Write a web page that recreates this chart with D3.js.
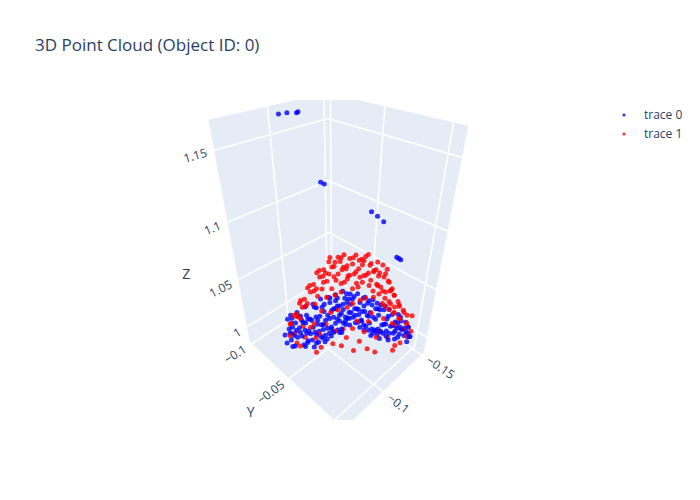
<!DOCTYPE html>
<html>
<head>
<meta charset="utf-8">
<script src="https://cdn.jsdelivr.net/npm/d3@7"></script>
<style>
  body { margin: 0; background: #fff; }
  text { font-family: "Open Sans", verdana, arial, sans-serif; fill: #2a3f5f; }
</style>
</head>
<body>
<svg width="700" height="500"></svg>
<script>
var chartTitle = "3D Point Cloud (Object ID: 0)";
var traceNames = ["trace 0", "trace 1"];
var axisTitles = ["X", "Y", "Z"];
var xTicks = [-0.15, -0.1];
var yTicks = [-0.1, -0.05, 0];
var zTicks = [1, 1.05, 1.1, 1.15];

// trace 0 (blue)
var blueX = [
  -0.0860,-0.0801,-0.0765,-0.0729,-0.0674,-0.0655,-0.0840,-0.0692,
  -0.0926,-0.0889,-0.0831,-0.0838,-0.0779,-0.0736,-0.0727,-0.0684,-0.0657,-0.0772,
  -0.1003,-0.0967,-0.0931,-0.0860,-0.0841,-0.0820,-0.0765,-0.0746,-0.0725,-0.0881,-0.0783,
  -0.1080,-0.1044,-0.1007,-0.0938,-0.0901,-0.0881,-0.0827,-0.0806,-0.0786,-0.0940,-0.0847,-0.0845,
  -0.1157,-0.1120,-0.1085,-0.1014,-0.0978,-0.0958,-0.0904,-0.0883,-0.0863,-0.0825,-0.1017,-0.0922,
  -0.1234,-0.1182,-0.1146,-0.1076,-0.1040,-0.1019,-0.0966,-0.0945,-0.0924,-0.0984,-0.1094,-0.0886,
  -0.1311,-0.1275,-0.1223,-0.1153,-0.1116,-0.1097,-0.1042,-0.1022,-0.1002,-0.1171,-0.1060,-0.1232,
  -0.1372,-0.1336,-0.1284,-0.1214,-0.1178,-0.1158,-0.1103,-0.1083,-0.1233,-0.1122,-0.1363,
  -0.1402,-0.1350,-0.1299,-0.1228,-0.1207,-0.1188,-0.1278,-0.1307,-0.1183,
  -0.1431,-0.1380,-0.1328,-0.1257,-0.1238,-0.1201,-0.1307,-0.1162,-0.1434,-0.1170,
  -0.1461,-0.1409,-0.1357,-0.1287,-0.1251,-0.1230,-0.1177,-0.1156,-0.1401,-0.1227,-0.1452,
  -0.1475,-0.1424,-0.1371,-0.1301,-0.1265,-0.1245,-0.1190,-0.1186,-0.1414,-0.1303,-0.1466,
  -0.1489,-0.1437,-0.1385,-0.1315,-0.1295,-0.1274,-0.1220,-0.1428,-0.1333,-0.1215,
  -0.1487,-0.1450,-0.1415,-0.1344,-0.1324,-0.1304,-0.1249,-0.1410,-0.1331,
  -0.1485,-0.1449,-0.1412,-0.1359,-0.1338,-0.1317,-0.1456,-0.1377,
  -0.1435,-0.1372,-0.1345,
  -0.0808,-0.0724,-0.0917,-0.0786,-0.0888,-0.0957,-0.0752,-0.1071,-0.0972,-0.0814,
  -0.1148,-0.0927,-0.0874,-0.1230,-0.0988,-0.1174,-0.1196,-0.1144,-0.1013,-0.1277,
  -0.1131,-0.1328,-0.1185,-0.1393,-0.1235,-0.1321,-0.1206,-0.1370,-0.1196,-0.1314,
  -0.1183,-0.1306,-0.1238,-0.1419,-0.1240,-0.1342,-0.1480,-0.1297,-0.1352,-0.1406,
  -0.1480,-0.1365,
  -0.1058,-0.1127,-0.1209,-0.1221,-0.1170,-0.1168,-0.1384,-0.1364,-0.1334,-0.1360,-0.1359,-0.1357
];
var blueY = [
  -0.0794,-0.0759,-0.0699,-0.0641,-0.0632,-0.0589,-0.0752,-0.0582,
  -0.0792,-0.0733,-0.0697,-0.0658,-0.0623,-0.0602,-0.0547,-0.0528,-0.0523,-0.0662,
  -0.0779,-0.0719,-0.0661,-0.0636,-0.0593,-0.0550,-0.0541,-0.0498,-0.0455,-0.0679,-0.0491,
  -0.0764,-0.0706,-0.0647,-0.0622,-0.0563,-0.0521,-0.0511,-0.0468,-0.0426,-0.0556,-0.0555,-0.0461,
  -0.0751,-0.0692,-0.0633,-0.0608,-0.0550,-0.0506,-0.0498,-0.0455,-0.0411,-0.0419,-0.0543,-0.0448,
  -0.0736,-0.0662,-0.0604,-0.0578,-0.0520,-0.0477,-0.0468,-0.0425,-0.0382,-0.0418,-0.0528,-0.0388,
  -0.0723,-0.0665,-0.0589,-0.0565,-0.0506,-0.0463,-0.0454,-0.0412,-0.0368,-0.0515,-0.0404,-0.0644,
  -0.0694,-0.0634,-0.0560,-0.0536,-0.0476,-0.0434,-0.0425,-0.0381,-0.0485,-0.0374,-0.0639,
  -0.0632,-0.0558,-0.0483,-0.0458,-0.0415,-0.0372,-0.0440,-0.0537,-0.0345,
  -0.0571,-0.0496,-0.0422,-0.0397,-0.0354,-0.0295,-0.0379,-0.0302,-0.0506,-0.0264,
  -0.0509,-0.0435,-0.0361,-0.0335,-0.0277,-0.0234,-0.0225,-0.0182,-0.0381,-0.0207,-0.0456,
  -0.0433,-0.0358,-0.0283,-0.0259,-0.0199,-0.0157,-0.0148,-0.0120,-0.0304,-0.0193,-0.0378,
  -0.0355,-0.0281,-0.0207,-0.0181,-0.0139,-0.0096,-0.0086,-0.0226,-0.0131,-0.0059,
  -0.0263,-0.0204,-0.0145,-0.0120,-0.0078,-0.0034,-0.0025,-0.0118,-0.0039,
  -0.0169,-0.0111,-0.0052,-0.0043,0.0000,0.0043,-0.0072,0.0007,
  -0.0029,0.0034,0.0039,
  -0.0720,-0.0614,-0.0737,-0.0584,-0.0640,-0.0665,-0.0460,-0.0711,-0.0588,-0.0430,
  -0.0696,-0.0475,-0.0400,-0.0710,-0.0446,-0.0608,-0.0586,-0.0510,-0.0357,-0.0599,
  -0.0429,-0.0580,-0.0437,-0.0577,-0.0419,-0.0461,-0.0322,-0.0442,-0.0268,-0.0340,
  -0.0187,-0.0286,-0.0196,-0.0331,-0.0130,-0.0186,-0.0302,-0.0073,-0.0082,-0.0090,
  -0.0142,-0.0005,
  -0.0997,-0.0996,-0.0995,-0.0994,-0.0728,-0.0690,-0.0434,-0.0362,-0.0282,-0.0162,-0.0143,-0.0125
];
var blueZ = [
  1.010,1.012,1.008,1.010,1.013,1.009,1.011,1.010,
  1.009,1.012,1.010,1.007,1.011,1.010,1.013,1.008,1.010,1.012,
  1.011,1.008,1.010,1.013,1.009,1.010,1.012,1.007,1.010,1.011,1.009,
  1.010,1.013,1.008,1.011,1.010,1.009,1.012,1.010,1.007,1.011,1.010,1.013,
  1.012,1.009,1.010,1.011,1.008,1.013,1.010,1.009,1.012,1.010,1.011,1.008,
  1.010,1.012,1.009,1.010,1.013,1.008,1.011,1.010,1.012,1.009,1.010,1.011,
  1.009,1.011,1.010,1.013,1.008,1.010,1.012,1.009,1.011,1.010,1.008,1.012,
  1.011,1.009,1.012,1.010,1.008,1.011,1.010,1.013,1.009,1.010,1.012,
  1.010,1.012,1.009,1.011,1.010,1.008,1.013,1.010,1.011,
  1.012,1.010,1.008,1.011,1.009,1.010,1.012,1.010,1.011,1.009,
  1.010,1.011,1.009,1.012,1.010,1.008,1.011,1.010,1.013,1.009,1.010,
  1.011,1.009,1.010,1.012,1.008,1.010,1.011,1.009,1.012,1.010,1.011,
  1.009,1.012,1.010,1.011,1.008,1.010,1.012,1.009,1.011,1.010,
  1.010,1.011,1.009,1.012,1.010,1.008,1.011,1.010,1.009,
  1.011,1.010,1.009,1.012,1.010,1.008,1.011,1.010,
  1.010,1.009,1.011,
  1.010,1.012,1.009,1.011,1.010,1.008,1.012,1.010,1.011,1.009,
  1.010,1.012,1.008,1.011,1.010,1.009,1.012,1.010,1.011,1.008,
  1.010,1.012,1.009,1.011,1.010,1.008,1.012,1.010,1.011,1.009,
  1.010,1.012,1.008,1.011,1.010,1.009,1.012,1.010,1.011,1.008,
  1.010,1.012,
  1.163,1.1625,1.161,1.1615,1.120,1.120,1.100,1.100,1.100,1.075,1.075,1.075
];

// trace 1 (red)
var redX = [
  -0.1079,-0.1100,-0.1147,-0.1168,-0.1190,-0.1211,
  -0.0996,-0.1029,-0.1068,-0.1080,-0.1119,-0.1158,-0.1170,-0.1209,-0.1221,
  -0.0922,-0.0965,-0.0981,-0.1002,-0.1049,-0.1071,-0.1092,-0.1134,-0.1156,-0.1177,-0.1198,
  -0.0859,-0.0906,-0.0928,-0.0949,-0.0991,-0.1013,-0.1034,-0.1081,-0.1102,-0.1119,-0.1166,-0.1170,
  -0.0944,-0.0991,-0.1014,-0.1042,-0.1089,-0.1112,-0.1134,-0.1182,-0.1205,-0.1232,-0.1280,-0.1294,
  -0.0886,-0.0934,-0.0962,-0.0989,-0.1042,-0.1065,-0.1103,-0.1155,-0.1183,-0.1211,-0.1258,-0.1267,
  -0.0829,-0.0877,-0.0904,-0.0937,-0.1016,-0.1048,-0.1086,-0.1139,-0.1167,-0.1189,-0.1232,-0.1236,
  -0.0900,-0.0948,-0.0983,-0.1043,-0.1182,-0.1253,-0.1282,-0.1331,-0.1349,
  -0.0843,-0.0891,-0.0920,-0.1034,-0.1178,-0.1239,-0.1263,-0.1306,-0.1319,
  -0.0786,-0.0834,-0.0927,-0.1052,-0.1174,-0.1214,-0.1237,-0.1280,-0.1293,
  -0.0851,-0.0900,-0.0941,-0.1059,-0.1196,-0.1324,-0.1344,-0.1387,-0.1401,
  -0.0795,-0.0843,-0.0939,-0.1068,-0.1215,-0.1300,-0.1320,-0.1363,-0.1377,
  -0.0743,-0.0792,-0.0948,-0.1219,-0.1290,-0.1309,-0.1323,-0.1361,
  -0.0692,-0.0741,-0.0820,-0.1037,-0.1239,-0.1264,-0.1294,-0.1337,
  -0.0781,-0.0865,-0.0988,-0.1076,-0.1234,-0.1380,-0.1440,
  -0.0770,-0.0871,-0.0999,-0.1088,-0.1257,-0.1374,-0.1412,
  -0.0708,-0.0803,-0.0875,-0.1014,-0.1127,-0.1249,-0.1344,
  -0.0708,-0.0826,-0.0909,-0.1043,-0.1150,-0.1272,
  -0.0691,-0.0815,-0.0915,-0.1043,-0.1207,
  -0.0752,-0.0938,-0.1067,-0.1150
];
var redY = [
  -0.0466,-0.0428,-0.0415,-0.0376,-0.0338,-0.0299,
  -0.0463,-0.0447,-0.0425,-0.0378,-0.0357,-0.0335,-0.0288,-0.0267,-0.0220,
  -0.0450,-0.0442,-0.0408,-0.0370,-0.0357,-0.0319,-0.0280,-0.0272,-0.0234,-0.0195,-0.0157,
  -0.0426,-0.0414,-0.0375,-0.0337,-0.0329,-0.0290,-0.0252,-0.0239,-0.0200,-0.0167,-0.0154,-0.0098,
  -0.0547,-0.0533,-0.0493,-0.0449,-0.0435,-0.0396,-0.0356,-0.0342,-0.0303,-0.0258,-0.0247,-0.0197,
  -0.0520,-0.0506,-0.0462,-0.0417,-0.0398,-0.0359,-0.0304,-0.0285,-0.0240,-0.0196,-0.0182,-0.0139,
  -0.0494,-0.0480,-0.0435,-0.0386,-0.0341,-0.0291,-0.0236,-0.0217,-0.0173,-0.0133,-0.0124,-0.0087,
  -0.0605,-0.0589,-0.0538,-0.0461,-0.0355,-0.0268,-0.0222,-0.0207,-0.0172,
  -0.0580,-0.0564,-0.0519,-0.0388,-0.0277,-0.0200,-0.0160,-0.0150,-0.0120,
  -0.0554,-0.0539,-0.0430,-0.0289,-0.0199,-0.0143,-0.0103,-0.0093,-0.0063,
  -0.0652,-0.0635,-0.0578,-0.0444,-0.0340,-0.0195,-0.0160,-0.0149,-0.0119,
  -0.0628,-0.0612,-0.0500,-0.0355,-0.0240,-0.0139,-0.0103,-0.0092,-0.0062,
  -0.0599,-0.0582,-0.0410,-0.0123,-0.0084,-0.0049,-0.0019,-0.0013,
  -0.0570,-0.0553,-0.0457,-0.0225,-0.0055,-0.0014,0.0032,0.0043,
  -0.0699,-0.0647,-0.0508,-0.0403,-0.0277,-0.0116,-0.0040,
  -0.0631,-0.0562,-0.0417,-0.0313,-0.0175,-0.0043,0.0011,
  -0.0614,-0.0551,-0.0463,-0.0308,-0.0227,-0.0088,0.0022,
  -0.0535,-0.0449,-0.0350,-0.0200,-0.0125,0.0014,
  -0.0473,-0.0381,-0.0265,-0.0121,0.0011,
  -0.0364,-0.0163,-0.0065,0.0034
];
var redZ = [
  1.074,1.077,1.072,1.076,1.073,1.078,
  1.078,1.073,1.076,1.071,1.077,1.074,1.079,1.072,1.075,
  1.072,1.077,1.074,1.079,1.071,1.076,1.073,1.078,1.075,1.072,1.077,
  1.076,1.072,1.078,1.073,1.077,1.071,1.075,1.079,1.073,1.076,1.072,1.078,
  1.063,1.058,1.061,1.056,1.064,1.059,1.062,1.057,1.060,1.064,1.058,1.062,
  1.057,1.062,1.059,1.064,1.056,1.061,1.058,1.063,1.060,1.056,1.062,1.059,
  1.061,1.056,1.063,1.058,1.062,1.057,1.064,1.059,1.061,1.056,1.063,1.058,
  1.048,1.043,1.046,1.041,1.047,1.044,1.049,1.042,1.045,
  1.042,1.047,1.044,1.049,1.041,1.046,1.043,1.048,1.045,
  1.046,1.041,1.048,1.043,1.047,1.042,1.045,1.049,1.044,
  1.033,1.028,1.031,1.026,1.034,1.029,1.032,1.027,1.030,
  1.027,1.032,1.029,1.034,1.026,1.031,1.028,1.033,1.030,
  1.031,1.026,1.033,1.028,1.032,1.027,1.034,1.029,
  1.028,1.033,1.027,1.031,1.026,1.032,1.029,1.034,
  1.012,1.008,1.011,1.007,1.013,1.009,1.010,
  1.008,1.012,1.009,1.013,1.007,1.011,1.010,
  1.011,1.007,1.012,1.009,1.013,1.008,1.010,
  1.009,1.012,1.007,1.011,1.013,1.008,
  1.012,1.008,1.011,1.009,1.010,
  1.009,1.012,1.008,1.011
];

var drawChart = function() {
  var svg = d3.select("svg");
  svg.append("rect").attr("width", 700).attr("height", 500).attr("fill", "#fff");

  // scene box and camera (plotly-like default eye 1.25,1.25,1.25)
  var xRange = [-0.1535, -0.058], yRange = [-0.103, 0.009], zRange = [0.982, 1.168];
  var cx = 335.5, cy = 257, focal = 386;
  var rx = xRange[1] - xRange[0], ry = yRange[1] - yRange[0], rz = zRange[1] - zRange[0];
  var norm = Math.cbrt(rx * ry * rz);
  var xScale = d3.scaleLinear().domain(xRange).range([-rx / norm / 2, rx / norm / 2]);
  var yScale = d3.scaleLinear().domain(yRange).range([-ry / norm / 2, ry / norm / 2]);
  var zScale = d3.scaleLinear().domain(zRange).range([-rz / norm / 2, rz / norm / 2]);

  var project = function(p) {
    var nx = xScale(p[0]), ny = yScale(p[1]), nz = zScale(p[2]);
    var xc = (ny - nx) / Math.SQRT2;
    var yc = (2 * nz - nx - ny) / Math.sqrt(6);
    var depth = (3.75 - nx - ny - nz) / Math.sqrt(3);
    return [cx + focal * xc / depth, cy - focal * yc / depth, depth];
  };

  svg.append("defs").append("clipPath").attr("id", "sceneclip")
    .append("rect").attr("x", 80).attr("y", 100).attr("width", 520).attr("height", 320);
  var scene = svg.append("g").attr("clip-path", "url(#sceneclip)");

  var x0 = xRange[0], x1 = xRange[1], y0 = yRange[0], y1 = yRange[1], z0 = zRange[0], z1 = zRange[1];
  var walls = [
    [[x0, y0, z0], [x1, y0, z0], [x1, y0, z1], [x0, y0, z1]],
    [[x0, y0, z0], [x0, y1, z0], [x0, y1, z1], [x0, y0, z1]],
    [[x0, y0, z0], [x1, y0, z0], [x1, y1, z0], [x0, y1, z0]]
  ];
  var pathOf = function(pts) {
    return "M" + pts.map(function(p) { var s = project(p); return s[0] + "," + s[1]; }).join("L");
  };
  scene.selectAll("path.wall")
    .data(walls)
    .enter()
    .append("path")
    .attr("class", "wall")
    .attr("d", function(d) { return pathOf(d) + "Z"; })
    .attr("fill", "#E5ECF6")
    .attr("stroke", "#E5ECF6")
    .attr("stroke-width", 0.5);

  var grid = [];
  xTicks.forEach(function(t) { grid.push([[t, y0, z0], [t, y1, z0]]); grid.push([[t, y0, z0], [t, y0, z1]]); });
  yTicks.forEach(function(t) { grid.push([[x0, t, z0], [x1, t, z0]]); grid.push([[x0, t, z0], [x0, t, z1]]); });
  zTicks.forEach(function(t) { grid.push([[x0, y0, t], [x1, y0, t]]); grid.push([[x0, y0, t], [x0, y1, t]]); });
  scene.selectAll("path.grid")
    .data(grid)
    .enter()
    .append("path")
    .attr("class", "grid")
    .attr("d", pathOf)
    .attr("stroke", "#fff")
    .attr("stroke-width", 1.6)
    .attr("fill", "none");

  // labels sit on the outer edge, turned along the grid direction
  var fmt = d3.format("~g");
  var placeText = function(a3, b3, text, gap, size, rotate) {
    var a = project(a3), b = project(b3);
    var dx = b[0] - a[0], dy = b[1] - a[1];
    var len = Math.sqrt(dx * dx + dy * dy);
    dx /= len; dy /= len;
    var px = a[0] + dx * gap, py = a[1] + dy * gap;
    var angle = Math.atan2(dy, dx) * 180 / Math.PI;
    var anchor = "start";
    if (dx < 0) { angle += 180; anchor = "end"; }
    var t = scene.append("text")
      .attr("x", px)
      .attr("y", py)
      .attr("dy", "0.35em")
      .attr("font-size", size)
      .text(text);
    if (rotate) {
      t.attr("text-anchor", anchor).attr("transform", "rotate(" + angle + "," + px + "," + py + ")");
    } else {
      t.attr("text-anchor", "middle");
    }
  };
  zTicks.forEach(function(t) { placeText([x1, y0, t], [x1 + rx * 0.2, y0, t], fmt(t), 8, 12, true); });
  yTicks.forEach(function(t) { placeText([x1, t, z0], [x1 + rx * 0.2, t, z0], fmt(t), 8, 12, true); });
  xTicks.forEach(function(t) { placeText([t, y1, z0], [t, y1 + ry * 0.2, z0], fmt(t), 8, 12, true); });
  var xm = (x0 + x1) / 2, ym = (y0 + y1) / 2, zm = (z0 + z1) / 2;
  placeText([xm, y1, z0], [xm, y1 + ry * 0.2, z0], axisTitles[0], 72, 14, false);
  placeText([x1, ym, z0], [x1 + rx * 0.2, ym, z0], axisTitles[1], 52, 14, false);
  placeText([x1, y0, zm], [x1 + rx * 0.2, y0, zm], axisTitles[2], 52, 14, false);

  // points, far ones first
  var points = [];
  blueX.forEach(function(x, i) { points.push({p: [x, blueY[i], blueZ[i]], c: "#0000ff"}); });
  redX.forEach(function(x, i) { points.push({p: [x, redY[i], redZ[i]], c: "#ff0000"}); });
  points.forEach(function(d) { d.s = project(d.p); });
  points.sort(function(a, b) { return b.s[2] - a.s[2]; });
  scene.selectAll("circle.pt")
    .data(points)
    .enter()
    .append("circle")
    .attr("class", "pt")
    .attr("cx", function(d) { return d.s[0]; })
    .attr("cy", function(d) { return d.s[1]; })
    .attr("r", 2.5)
    .attr("fill", function(d) { return d.c; })
    .attr("fill-opacity", 0.8);

  svg.append("text")
    .attr("x", 35)
    .attr("y", 51)
    .attr("font-size", 17)
    .text(chartTitle);

  var legendColors = ["#0000ff", "#ff0000"];
  var legend = svg.selectAll("g.legend")
    .data(traceNames)
    .enter()
    .append("g")
    .attr("class", "legend");
  legend.append("circle")
    .attr("cx", 624)
    .attr("cy", function(d, i) { return 115 + i * 19; })
    .attr("r", 1.6)
    .attr("fill", function(d, i) { return legendColors[i]; })
    .attr("fill-opacity", 0.8);
  legend.append("text")
    .attr("x", 644)
    .attr("y", function(d, i) { return 119 + i * 19; })
    .attr("font-size", 12)
    .text(function(d) { return d; });
};

drawChart();
</script>
</body>
</html>
